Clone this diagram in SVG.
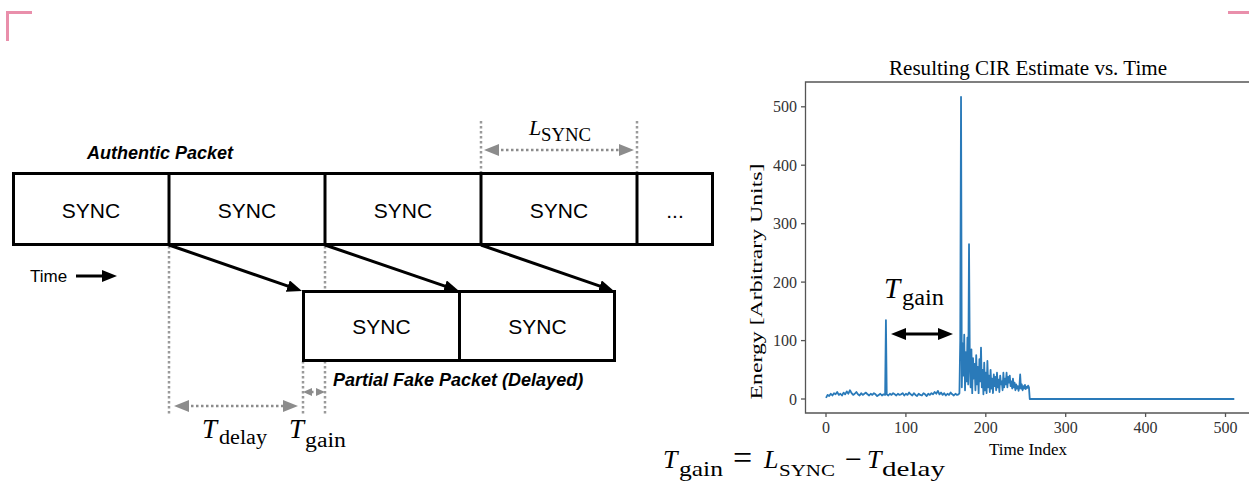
<svg xmlns="http://www.w3.org/2000/svg" width="1249" height="487" viewBox="0 0 1249 487">
<style>
.box{fill:#fff;stroke:#000;stroke-width:3}
.div{stroke:#000;stroke-width:3}
.cell{font-family:"Liberation Sans",Arial,sans-serif;font-size:21px;fill:#000;text-anchor:middle}
.lbl{font-family:"Liberation Sans",Arial,sans-serif;font-size:18px;font-weight:bold;font-style:italic;fill:#000}
.dot{stroke:#9a9a9a;stroke-width:2.5;stroke-dasharray:2.5 2.5;fill:none}
.garr{stroke:#8c8c8c;stroke-width:2.5;stroke-dasharray:2.5 2.5;fill:none}
.barr{stroke:#000;stroke-width:3;fill:none}
.m{font-family:"Liberation Serif","Times New Roman",serif;fill:#000}
.it{font-style:italic}
.ax{stroke:#555;stroke-width:1.3;fill:none}
.tk{font-family:"Liberation Serif","Times New Roman",serif;font-size:16px;fill:#333}
.corner{stroke:#E98FAB;stroke-width:3;fill:none}
</style>
<defs>
<marker id="ah" markerUnits="userSpaceOnUse" markerWidth="15" markerHeight="12" refX="4" refY="6" orient="auto-start-reverse" viewBox="0 0 15 12">
<path d="M0,0 L15,6 L0,12 z" fill="#000"/>
</marker>
<marker id="gh" markerUnits="userSpaceOnUse" markerWidth="15" markerHeight="12" refX="3" refY="6" orient="auto-start-reverse" viewBox="0 0 15 12">
<path d="M0,0 L15,6 L0,12 z" fill="#8c8c8c"/>
</marker>
<marker id="gs" markerUnits="userSpaceOnUse" markerWidth="9" markerHeight="8" refX="1" refY="4" orient="auto-start-reverse" viewBox="0 0 9 8">
<path d="M0,0 L9,4 L0,8 z" fill="#8c8c8c"/>
</marker>
</defs>
<rect width="1249" height="487" fill="#fff"/>

<g id="corners">
<path class="corner" d="M7.5,41 V12.5 H32"/>
<path class="corner" d="M1228,12.5 H1249"/>
</g>

<g id="guides">
<line class="dot" x1="169" y1="246" x2="169" y2="416"/>
<line class="dot" x1="325" y1="246" x2="325" y2="416"/>
<line class="dot" x1="303" y1="361" x2="303" y2="416"/>
<line class="dot" x1="481" y1="121" x2="481" y2="172"/>
<line class="dot" x1="637" y1="121" x2="637" y2="172"/>
</g>

<g id="authentic-packet">
<rect class="box" x="13.5" y="173.5" width="699" height="71"/>
<line class="div" x1="169" y1="173.5" x2="169" y2="244.5"/>
<line class="div" x1="325" y1="173.5" x2="325" y2="244.5"/>
<line class="div" x1="481" y1="173.5" x2="481" y2="244.5"/>
<line class="div" x1="637" y1="173.5" x2="637" y2="244.5"/>
<text class="cell" x="91" y="218">SYNC</text>
<text class="cell" x="247" y="218">SYNC</text>
<text class="cell" x="403" y="218">SYNC</text>
<text class="cell" x="559" y="218">SYNC</text>
<text class="cell" x="675" y="218">...</text>
<text class="lbl" x="87" y="159">Authentic Packet</text>
</g>

<g id="fake-packet">
<rect class="box" x="303.5" y="291.5" width="311" height="69"/>
<line class="div" x1="459.5" y1="291.5" x2="459.5" y2="360.5"/>
<text class="cell" x="381.5" y="333.5">SYNC</text>
<text class="cell" x="537.5" y="333.5">SYNC</text>
<text class="lbl" x="333" y="386">Partial Fake Packet (Delayed)</text>
</g>

<g id="time-label">
<text x="30" y="282" font-family="Liberation Sans,Arial,sans-serif" font-size="17" fill="#000">Time</text>
</g>

<g id="connectors">
<line class="barr" x1="76" y1="276" x2="106" y2="276" marker-end="url(#ah)"/>
<line class="barr" x1="169" y1="245" x2="291.6" y2="287.4" marker-end="url(#ah)"/>
<line class="barr" x1="325" y1="245" x2="448.6" y2="287.4" marker-end="url(#ah)"/>
<line class="barr" x1="481" y1="245" x2="603.6" y2="287.4" marker-end="url(#ah)"/>
<line class="garr" x1="496" y1="150" x2="622" y2="150" marker-start="url(#gh)" marker-end="url(#gh)"/>
<line class="garr" x1="186" y1="406" x2="286" y2="406" marker-start="url(#gh)" marker-end="url(#gh)"/>
<line class="garr" x1="311" y1="392" x2="317" y2="392" marker-start="url(#gs)" marker-end="url(#gs)"/>
</g>

<g id="math-labels">
<text class="m it" x="529" y="135" font-size="22">L</text>
<text class="m" x="541" y="141" font-size="18" textLength="50" lengthAdjust="spacingAndGlyphs">SYNC</text>
<text class="m it" x="202" y="438" font-size="27">T</text>
<text class="m" x="219" y="444" font-size="20" textLength="48" lengthAdjust="spacingAndGlyphs">delay</text>
<text class="m it" x="289" y="438" font-size="27">T</text>
<text class="m" x="305" y="447" font-size="20" textLength="41" lengthAdjust="spacingAndGlyphs">gain</text>
</g>

<g id="plot">
<text class="m" x="1028" y="75" font-size="20" text-anchor="middle" fill="#222" textLength="278" lengthAdjust="spacingAndGlyphs">Resulting CIR Estimate vs. Time</text>
<path class="ax" d="M1249,82 H805.5 V413 H1249"/>
<g class="ax">
<line x1="801" y1="399" x2="805.5" y2="399"/>
<line x1="801" y1="340.6" x2="805.5" y2="340.6"/>
<line x1="801" y1="282.1" x2="805.5" y2="282.1"/>
<line x1="801" y1="223.7" x2="805.5" y2="223.7"/>
<line x1="801" y1="165.2" x2="805.5" y2="165.2"/>
<line x1="801" y1="106.8" x2="805.5" y2="106.8"/>
<line x1="826" y1="413" x2="826" y2="417"/>
<line x1="905.9" y1="413" x2="905.9" y2="417"/>
<line x1="985.8" y1="413" x2="985.8" y2="417"/>
<line x1="1065.7" y1="413" x2="1065.7" y2="417"/>
<line x1="1145.6" y1="413" x2="1145.6" y2="417"/>
<line x1="1225.5" y1="413" x2="1225.5" y2="417"/>
</g>
<g class="tk" text-anchor="end">
<text x="797" y="404.5">0</text>
<text x="797" y="346">100</text>
<text x="797" y="287.5">200</text>
<text x="797" y="229">300</text>
<text x="797" y="170.5">400</text>
<text x="797" y="112">500</text>
</g>
<g class="tk" text-anchor="middle">
<text x="826" y="433">0</text>
<text x="905.9" y="433">100</text>
<text x="985.8" y="433">200</text>
<text x="1065.7" y="433">300</text>
<text x="1145.6" y="433">400</text>
<text x="1225.5" y="433">500</text>
</g>
<text class="m" x="1028" y="455" font-size="17" text-anchor="middle" fill="#333">Time Index</text>
<text class="m" transform="translate(762,281.5) rotate(-90)" font-size="17" text-anchor="middle" fill="#333" textLength="236" lengthAdjust="spacingAndGlyphs">Energy [Arbitrary Units]</text>
<polyline transform="translate(826,399) scale(0.799,-0.5844)" fill="none" stroke="#2a7ab9" stroke-width="1.8" vector-effect="non-scaling-stroke" stroke-linejoin="round" points="0,2 2,7 4,5 6,9 8,6 10,10 12,8 14,12 16,7 18,9 20,6 22,11 24,8 26,13 28,9 30,15 32,10 34,7 36,9 38,12 40,8 42,6 44,10 46,7 48,9 50,11 52,8 54,6 56,9 58,7 60,10 62,8 64,5 66,7 68,9 70,6 72,8 74,7 75,135 76,8 78,6 80,9 82,7 84,10 86,8 88,6 90,9 92,7 94,8 96,10 98,6 100,9 102,7 104,11 106,8 108,6 110,10 112,7 114,5 116,9 118,7 120,6 122,10 124,8 126,5 128,9 130,7 132,10 134,8 136,12 138,9 140,14 142,8 144,11 146,7 148,10 150,6 152,9 154,7 156,11 158,8 160,6 162,9 164,7 166,8 167,10 168,100 169,517 170,20 171,95 172,40 173,110 174,15 175,80 176,30 177,105 178,25 179,265 180,60 181,20 182,85 183,10 184,70 185,35 186,60 187,15 188,75 189,25 190,55 191,10 192,68 193,30 194,88 195,20 196,50 197,8 198,62 199,15 200,45 201,10 202,65 203,20 204,40 205,12 206,50 207,18 208,35 209,10 210,42 211,22 212,38 213,15 214,45 215,20 216,33 217,12 218,40 219,25 220,30 221,15 222,45 223,20 224,35 225,25 226,45 227,20 228,38 229,28 230,40 231,22 232,30 233,18 234,35 235,20 236,28 237,15 238,25 239,18 240,22 241,14 242,20 243,42 244,18 245,25 246,15 247,22 248,18 249,24 250,17 251,21 252,19 253,23 254,20 255,0 511,0"/>
<line class="barr" x1="902" y1="334" x2="942" y2="334" marker-start="url(#ah)" marker-end="url(#ah)"/>
<text class="m it" x="884" y="298" font-size="29">T</text>
<text class="m" x="902" y="305" font-size="23" textLength="42" lengthAdjust="spacingAndGlyphs">gain</text>
</g>

<g id="equation">
<text class="m it" x="663" y="468" font-size="26">T</text>
<text class="m" x="679" y="476" font-size="21" textLength="44" lengthAdjust="spacingAndGlyphs">gain</text>
<text class="m" x="733" y="469" font-size="34">=</text>
<text class="m it" x="764" y="468" font-size="26">L</text>
<text class="m" x="779" y="476" font-size="17" textLength="56" lengthAdjust="spacingAndGlyphs">SYNC</text>
<text class="m" x="845" y="469" font-size="30">−</text>
<text class="m it" x="867" y="468" font-size="26">T</text>
<text class="m" x="882" y="476" font-size="21" textLength="63" lengthAdjust="spacingAndGlyphs">delay</text>
</g>
</svg>
